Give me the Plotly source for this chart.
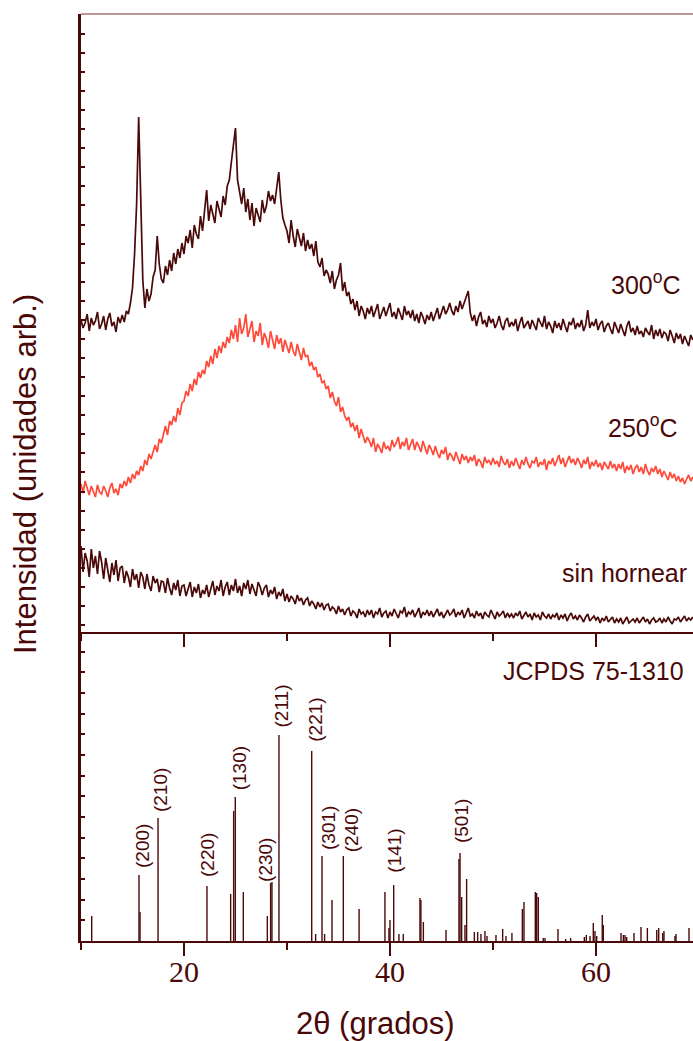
import numpy as np
import plotly.graph_objects as go
from plotly.subplots import make_subplots

# ---------------- data ----------------
# 2-theta scan grid (degrees), 0.2 deg step
two_theta = np.round(np.arange(10.0, 69.41, 0.2), 1)

# diffractograms (arbitrary units, vertically stacked)
i_300 = [
    312, 304, 309, 318, 301, 314, 307, 311, 320, 303,
    308, 316, 302, 313, 319, 306, 310, 300, 315, 309,
    317, 310, 321, 318, 329, 344, 378, 428, 515, 440,
    352, 324, 343, 331, 338, 355, 362, 396, 368, 353,
    349, 366, 357, 372, 361, 379, 368, 383, 374, 389,
    378, 396, 389, 402, 384, 407, 398, 393, 416, 401,
    420, 442, 411, 427, 418, 409, 431, 422, 415, 436,
    427, 446, 452, 470, 485, 504, 452, 439, 428, 444,
    420, 433, 412, 429, 406, 424, 417, 410, 432, 419,
    426, 441, 431, 437, 428, 447, 460, 432, 414, 407,
    401, 389, 412, 396, 385, 403, 394, 386, 399, 381,
    392, 383, 388, 376, 391, 370, 365, 374, 356, 362,
    358, 349, 361, 343, 352, 357, 369, 341, 350, 336,
    340, 328, 333, 322, 331, 316, 326, 321, 313, 324,
    318, 326, 315, 321, 328, 313, 319, 325, 316, 322,
    329, 315, 320, 313, 324, 318, 312, 326, 317, 321,
    314, 322, 311, 318, 309, 320, 315, 308, 317, 312,
    320, 311, 317, 324, 313, 319, 326, 318, 322, 329,
    321, 317, 326, 320, 331, 323, 329, 334, 341, 319,
    311, 317, 306, 315, 320, 308, 312, 305, 316, 309,
    313, 304, 309, 316, 307, 302, 311, 314, 305, 310,
    306, 313, 301, 309, 315, 304, 308, 311, 303, 312,
    307, 302, 314, 309, 305, 316, 303, 310, 306, 299,
    311, 304, 309, 302, 313, 306, 300, 310, 307, 314,
    303, 309, 305, 312, 301, 307, 322, 304, 310, 306,
    313, 302, 308, 311, 300, 306, 309, 303, 298, 310,
    305, 299, 308, 302, 296, 306, 311, 300, 304, 297,
    306, 298, 301, 295, 304, 300, 297, 307, 293, 302,
    296, 303, 294, 300, 298, 291, 302, 296, 289, 299,
    293, 298, 288, 296, 291, 286, 297, 292,
]

i_250 = [
    148, 139, 151, 143, 137, 146, 141, 135, 147, 140,
    138, 146, 141, 135, 144, 149, 139, 143, 137, 148,
    144, 151, 146, 155, 149, 158, 153, 161, 157, 166,
    161, 172, 167, 178, 173, 181, 187, 180, 193, 189,
    198, 206, 197, 211, 207, 216, 210, 224, 217, 229,
    231, 241, 236, 248, 241, 253, 247, 260, 254, 262,
    258, 271, 265, 276, 268, 283, 274, 286, 279, 290,
    284, 295, 289, 302, 293, 307, 290, 314, 298, 304,
    318, 295, 303, 311, 290, 301, 296, 309, 287, 299,
    293, 284, 301, 290, 283, 297, 288, 294, 280, 292,
    286, 279, 290, 281, 276, 288, 280, 272, 284, 275,
    277, 266, 270, 262, 265, 255, 258, 249, 251, 243,
    246, 234, 240, 231, 226, 235, 220, 225, 216, 212,
    215, 205, 209, 201, 207, 194, 203, 197, 189, 195,
    191, 185, 194, 180, 188, 184, 179, 190, 183, 186,
    181, 192, 185, 189, 195, 183, 190, 186, 194, 182,
    188, 193, 182, 190, 186, 180, 191, 184, 178, 187,
    183, 177, 186, 179, 174, 182, 178, 185, 172, 179,
    176, 171, 180, 174, 168, 178, 172, 176, 169, 175,
    171, 177, 166, 173, 170, 164, 175, 169, 172, 167,
    174, 168, 171, 165, 176, 170, 167, 173, 164, 171,
    166, 174, 169, 163, 172, 167, 175, 168, 164, 171,
    169, 175, 165, 170, 167, 173, 162, 171, 168, 174,
    166, 172, 177, 168, 174, 165, 171, 176, 169, 173,
    167, 174, 170, 164, 172, 168, 175, 163, 170, 166,
    172, 165, 169, 162, 170, 166, 163, 171, 164, 168,
    161, 168, 163, 170, 159, 166, 162, 167, 158, 164,
    167, 160, 165, 158, 168, 161, 157, 164, 160, 166,
    158, 163, 155, 161, 157, 152, 160, 154, 158, 151,
    156, 150, 154, 148, 153, 157, 151, 155,
]

i_raw = [
    86, 60, 79, 71, 55, 83, 64, 76, 58, 81,
    70, 53, 74, 62, 50, 69, 57, 72, 51, 64,
    66, 49, 61, 55, 45, 63, 52, 58, 44, 60,
    55, 43, 58, 47, 41, 56, 49, 53, 40, 51,
    50, 39, 54, 44, 37, 49, 42, 52, 36, 46,
    47, 36, 44, 50, 35, 45, 39, 48, 34, 42,
    38, 47, 35, 44, 51, 37, 46, 41, 52, 36,
    45, 50, 37, 47, 41, 53, 39, 46, 36, 49,
    43, 52, 38, 48, 42, 36, 50, 45, 37, 44,
    47, 35, 42, 38, 45, 33, 40, 36, 43, 31,
    38, 30, 36, 33, 28, 37, 31, 34, 27, 32,
    34, 26, 31, 28, 23, 30, 25, 29, 22, 27,
    28, 21, 25, 23, 18, 26, 20, 23, 17, 22,
    24, 16, 21, 19, 14, 23, 18, 20, 15, 22,
    17, 22, 14, 20, 18, 24, 15, 19, 21, 14,
    20, 16, 23, 18, 14, 21, 19, 25, 15, 20,
    18, 22, 15, 19, 24, 14, 20, 17, 22, 16,
    21, 15, 19, 23, 16, 20, 14, 18, 22, 17,
    19, 23, 15, 20, 17, 22, 14, 19, 24, 16,
    18, 14, 21, 16, 19, 13, 20, 17, 15, 22,
    17, 13, 20, 16, 18, 21, 14, 19, 15, 18,
    14, 19, 16, 21, 13, 17, 20, 15, 18, 12,
    19, 15, 17, 12, 20, 16, 14, 18, 13, 17,
    15, 19, 12, 17, 14, 18, 11, 16, 19, 13,
    16, 12, 17, 14, 10, 15, 18, 11, 14, 16,
    12, 15, 9, 14, 11, 16, 10, 13, 15, 9,
    13, 10, 14, 8, 12, 15, 9, 11, 13, 10,
    14, 9, 12, 15, 10, 13, 8, 12, 14, 10,
    11, 14, 9, 13, 10, 15, 11, 8, 13, 12,
    15, 10, 13, 16, 11, 14, 12, 15,
]

# reference pattern JCPDS 75-1310: line positions (deg) and relative intensities
ref_pos = [11.04, 15.63, 15.73, 17.48, 22.23, 24.53, 24.82, 24.98, 25.76, 28.09,
           28.41, 28.54, 29.22, 32.40, 32.78, 33.40, 33.65, 34.37, 35.47, 37.00,
           39.51, 39.90, 40.00, 40.36, 40.87, 41.29, 42.91, 43.00, 43.24, 45.44,
           46.70, 46.80, 46.96, 47.28, 47.44, 48.19, 48.51, 48.83, 49.22, 49.42,
           50.29, 50.94, 51.26, 51.84, 52.85, 53.01, 54.11, 54.24, 54.40, 54.88,
           55.05, 56.31, 57.06, 57.54, 58.87, 59.06, 59.42, 59.74, 59.90, 60.07,
           60.61, 60.71, 62.43, 62.66, 62.82, 62.98, 63.69, 64.37, 64.99, 65.90,
           66.09, 66.48, 66.60, 67.67, 67.77, 69.03]
ref_int = [25, 66, 29, 123, 55, 47, 130, 144, 49, 25,
           58, 59, 206, 190, 7, 85, 7, 41, 85, 32,
           49, 13, 21, 56, 7, 7, 43, 41, 19, 11,
           82, 88, 44, 16, 62, 9, 9, 7, 10, 5,
           6, 12, 5, 8, 32, 39, 49, 48, 44, 3,
           3, 12, 2, 3, 4, 6, 5, 18, 10, 5,
           26, 16, 8, 6, 6, 4, 8, 14, 13, 11,
           13, 8, 10, 5, 7, 13]

# indexed reflections
hkl_labels = ["(200)", "(210)", "(220)", "(130)", "(230)", "(211)",
              "(221)", "(301)", "(240)", "(141)", "(501)"]
hkl_pos = [15.63, 17.48, 22.23, 24.98, 28.54, 29.22,
           32.40, 33.40, 35.47, 40.36, 46.80]

# ---------------- style ----------------
MAROON = "#4b0808"
RED = "#ff4a3a"
SANS = "Liberation Sans, Arial, sans-serif"
SERIF = "Liberation Serif, Times New Roman, serif"

# horizontal / vertical nudges (px) for the hkl labels
hkl_dx = {"(200)": 3, "(210)": 2, "(220)": 0, "(130)": 4, "(230)": -7,
          "(211)": 3, "(221)": 3, "(301)": 6, "(240)": 8, "(141)": 0, "(501)": 1}
hkl_dy = {"(200)": 7, "(210)": 6, "(220)": 9, "(130)": 7, "(230)": 0,
          "(211)": 8, "(221)": 9, "(301)": 6, "(240)": 4, "(141)": 12, "(501)": 10}

fig = make_subplots(rows=2, cols=1, shared_xaxes=True,
                    row_heights=[2 / 3, 1 / 3], vertical_spacing=0)

line_w = 1.7
fig.add_trace(go.Scatter(x=two_theta, y=i_raw, mode="lines",
                         line=dict(color=MAROON, width=line_w)), row=1, col=1)
fig.add_trace(go.Scatter(x=two_theta, y=i_250, mode="lines",
                         line=dict(color=RED, width=line_w)), row=1, col=1)
fig.add_trace(go.Scatter(x=two_theta, y=i_300, mode="lines",
                         line=dict(color=MAROON, width=line_w)), row=1, col=1)

# stick pattern
sx, sy = [], []
for p, h in zip(ref_pos, ref_int):
    sx += [p, p, None]
    sy += [0, h, None]
fig.add_trace(go.Scatter(x=sx, y=sy, mode="lines",
                         line=dict(color=MAROON, width=1.4)), row=2, col=1)

x_range = [10, 69.42]
common_x = dict(range=x_range, showline=True, linecolor=MAROON, linewidth=2,
                ticks="outside", ticklen=13, tickwidth=2, tickcolor=MAROON,
                tick0=0, dtick=20, showgrid=False, zeroline=False,
                minor=dict(ticks="outside", dtick=10, ticklen=7,
                           tickwidth=2, tickcolor=MAROON))
fig.update_xaxes(**common_x, showticklabels=False, row=1, col=1)
fig.update_xaxes(**common_x, showticklabels=True, ticklabelstandoff=-10,
                 tickfont=dict(family=SERIF, size=30, color=MAROON),
                 row=2, col=1)

common_y = dict(showline=True, linecolor=MAROON, linewidth=3,
                ticks="inside", ticklen=4, tickwidth=1.5, tickcolor=MAROON,
                showticklabels=False, showgrid=False, zeroline=False)
fig.update_yaxes(**common_y, range=[0, 618], tick0=7, dtick=19.07, row=1, col=1)
fig.update_yaxes(**common_y, range=[0, 309], tick0=0, dtick=20.67, row=2, col=1)

ann = []
# sample labels
txt_font = dict(family=SANS, size=25, color=MAROON)
ann.append(dict(x=68.45, y=349, xref="x", yref="y", text="300<sup>o</sup>C",
                xanchor="right", yanchor="middle", showarrow=False, font=txt_font))
ann.append(dict(x=68.15, y=206, xref="x", yref="y", text="250<sup>o</sup>C",
                xanchor="right", yanchor="middle", showarrow=False, font=txt_font))
ann.append(dict(x=69.05, y=59, xref="x", yref="y", text="sin hornear",
                xanchor="right", yanchor="middle", showarrow=False, font=txt_font))
ann.append(dict(x=68.75, y=270, xref="x2", yref="y2", text="JCPDS 75-1310",
                xanchor="right", yanchor="middle", showarrow=False, font=txt_font))

# hkl labels above their lines
for lab, p in zip(hkl_labels, hkl_pos):
    h = ref_int[ref_pos.index(p)]
    ann.append(dict(x=p, y=h, xref="x2", yref="y2", text=lab, textangle=-90,
                    xanchor="center", yanchor="bottom", showarrow=False,
                    xshift=hkl_dx[lab], yshift=hkl_dy[lab] - 2,
                    font=dict(family=SANS, size=19, color=MAROON)))

# axis titles
ann.append(dict(x=(375 - 81) / 612, y=(941 - 1023) / 927, xref="paper", yref="paper",
                text="2θ (grados)", showarrow=False, xanchor="center", yanchor="middle",
                font=dict(family=SANS, size=31, color=MAROON)))
ann.append(dict(x=(25 - 81) / 612, y=(941 - 474) / 927, xref="paper", yref="paper",
                text="Intensidad (unidades arb.)", textangle=-90, showarrow=False,
                xanchor="center", yanchor="middle",
                font=dict(family=SANS, size=31, color=MAROON)))

fig.update_layout(
    width=693, height=1041,
    margin=dict(l=81, r=0, t=14, b=100),
    paper_bgcolor="white", plot_bgcolor="white",
    showlegend=False,
    annotations=ann,
    shapes=[dict(type="line", xref="paper", yref="paper", x0=0, x1=1, y0=1, y1=1,
                 line=dict(color="rgb(165,115,115)", width=1.5))],
)

fig.write_html("out.html")
